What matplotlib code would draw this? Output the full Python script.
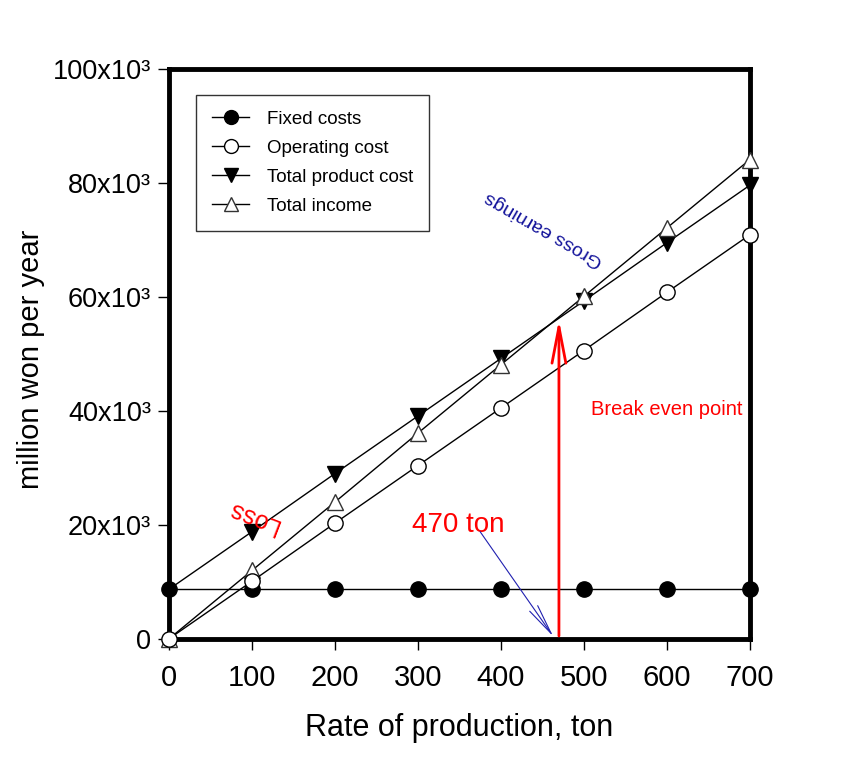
import matplotlib
matplotlib.use('Agg')
import matplotlib.pyplot as plt
from matplotlib.ticker import FuncFormatter

plt.rcParams['font.family'] = ['Liberation Sans', 'DejaVu Sans']

# データ
production = [0, 100, 200, 300, 400, 500, 600, 700]
fixed_costs = [8.7e3] * 8
operating_cost = [0, 10.1e3, 20.3e3, 30.4e3, 40.5e3, 50.6e3, 60.8e3, 70.9e3]
total_product_cost = [8.7e3, 18.8e3, 29.0e3, 39.1e3, 49.2e3, 59.3e3, 69.5e3, 79.6e3]
total_income = [0, 12.0e3, 24.0e3, 36.1e3, 48.1e3, 60.1e3, 72.1e3, 84.1e3]

break_even_x = 470
break_even_y = 56.5e3

x_ticks = [0, 100, 200, 300, 400, 500, 600, 700]
y_ticks = [0, 20e3, 40e3, 60e3, 80e3, 100e3]

fig = plt.figure(figsize=(8.5, 7.77), dpi=100)
ax = fig.add_axes([0.199, 0.178, 0.683, 0.733])

ms = 11
ax.plot(production, fixed_costs, '-', color='black', lw=1.0, marker='o', ms=ms,
        mfc='black', mec='black', label='Fixed costs', zorder=4, clip_on=False)
ax.plot(production, operating_cost, '-', color='black', lw=1.0, marker='o', ms=ms,
        mfc='white', mec='black', label='Operating cost', zorder=5, clip_on=False)
ax.plot(production, total_product_cost, '-', color='black', lw=1.0, marker='v', ms=ms,
        mfc='black', mec='black', label='Total product cost', zorder=3, clip_on=False,
        markevery=slice(1, None))
ax.plot(production, total_income, '-', color='black', lw=1.0, marker='^', ms=ms,
        mfc='white', mec='#333333', label='Total income', zorder=3, clip_on=False)

# 損益分岐点の矢印
ax.annotate('', xy=(break_even_x, break_even_y), xytext=(break_even_x, 0),
            arrowprops=dict(arrowstyle='->,head_length=2.6,head_width=0.5',
                            color='red', lw=2.0), zorder=6)
ax.annotate('', xy=(break_even_x - 5, 0), xytext=(373, 19.2e3),
            arrowprops=dict(arrowstyle='->,head_length=2.2,head_width=0.35',
                            color='#2020b0', lw=0.8), zorder=6)

ax.text(349, 19.9e3, '470 ton', color='red', fontsize=20, ha='center', va='center')
ax.text(600, 40.3e3, 'Break even point', color='red', fontsize=14.5, ha='center', va='center')
ax.text(101, 21.4e3, 'Loss', color='red', fontsize=18, ha='center', va='center',
        rotation=159, rotation_mode='anchor')
ax.text(452, 72.0e3, 'Gross earnings', color='#12129a', fontsize=14, ha='center',
        va='center', rotation=150, rotation_mode='anchor')

ax.set_xlim(0, 700)
ax.set_ylim(0, 100e3)
ax.set_xticks(x_ticks)
ax.set_yticks(y_ticks)


def fmt_y(v, pos):
    if v == 0:
        return '0'
    return f'{int(round(v / 1e3))}x10\u00b3'


ax.yaxis.set_major_formatter(FuncFormatter(fmt_y))
ax.tick_params(axis='both', direction='out', length=8, width=1.0)
ax.tick_params(axis='x', pad=10, labelsize=21)
ax.tick_params(axis='y', pad=5, labelsize=19.5)

for s in ax.spines.values():
    s.set_linewidth(3.5)

ax.set_xlabel('Rate of production, ton', fontsize=22)
ax.xaxis.set_label_coords(0.5, -0.13)
ax.set_ylabel('million won per year', fontsize=21)
ax.yaxis.set_label_coords(-0.213, 0.49)

leg = ax.legend(loc='upper left', bbox_to_anchor=(0.046, 0.955), fontsize=13.5,
                frameon=True, fancybox=False, edgecolor='black', borderpad=0.85,
                labelspacing=0.63, handlelength=2.0, handletextpad=0.95,
                borderaxespad=0)
leg.get_frame().set_linewidth(1.0)
for h in leg.legend_handles:
    h.set_markersize(10)

plt.savefig('out.png', dpi=100)
plt.close()
